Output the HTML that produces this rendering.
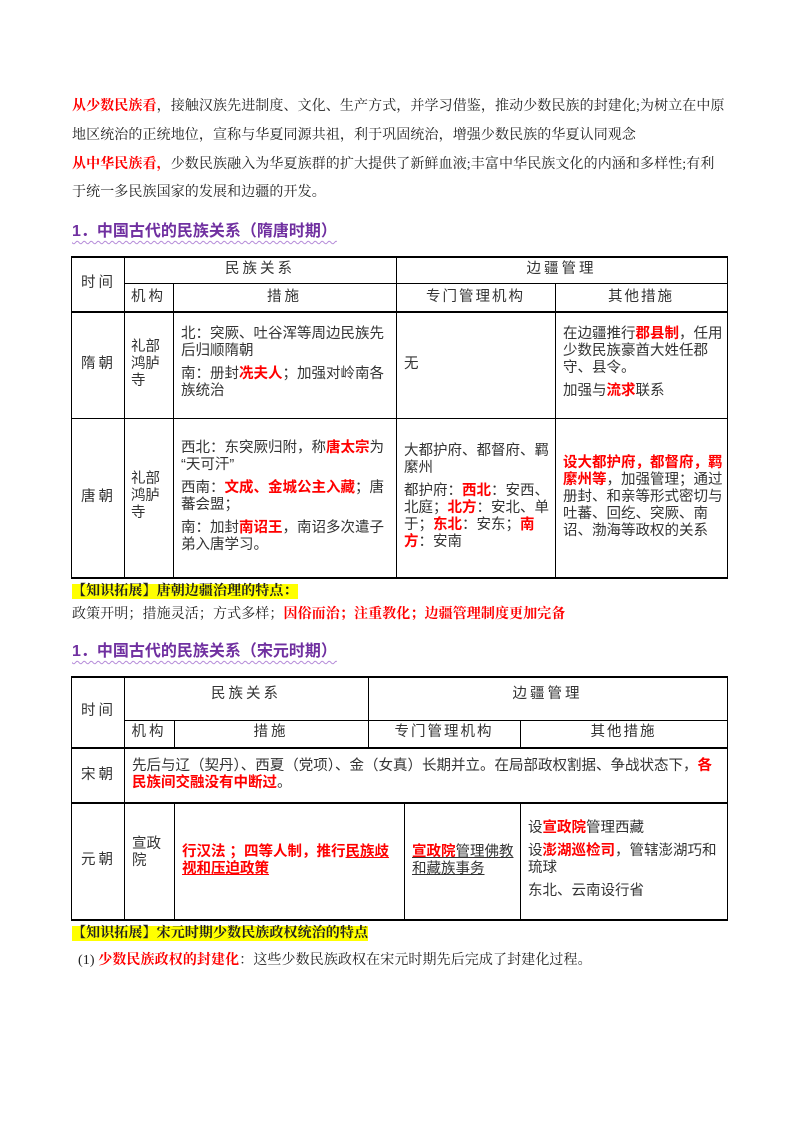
<!DOCTYPE html>
<html><head><meta charset="utf-8"><style>
body{margin:0;background:#fff;}
#p{position:relative;width:800px;height:1132px;overflow:hidden;font-family:"Liberation Serif","Noto Serif CJK SC",serif;color:#222;}
.a{position:absolute;white-space:nowrap;}
.t{font-size:14px;letter-spacing:0.1px;}
.r{color:#f00;font-weight:bold;}
.h{font-family:"Liberation Sans","Noto Sans CJK SC",sans-serif;font-weight:bold;color:#7030a0;font-size:16px;text-decoration:underline wavy #b48ad8;text-decoration-thickness:1px;text-underline-offset:4px;}
.ln{position:absolute;background:#000;}
.c{position:absolute;font-family:"Liberation Sans","Noto Sans CJK SC",sans-serif;font-size:14.5px;line-height:17px;color:#333;white-space:normal;}
.cc{text-align:center;}
.y{background:#ffff00;font-weight:bold;}
u{text-decoration-thickness:1px;}
</style></head><body><div id="p">
<div class="a t" style="left:72px;top:95px;"><span class="r">从少数民族看</span>，接触汉族先进制度、文化、生产方式，并学习借鉴，推动少数民族的封建化;为树立在中原</div>
<div class="a t" style="left:72px;top:124px;">地区统治的正统地位，宣称与华夏同源共祖，利于巩固统治，增强少数民族的华夏认同观念</div>
<div class="a t" style="left:72px;top:153px;"><span class="r">从中华民族看，</span>少数民族融入为华夏族群的扩大提供了新鲜血液;丰富中华民族文化的内涵和多样性;有利</div>
<div class="a t" style="left:72px;top:181px;">于统一多民族国家的发展和边疆的开发。</div>
<div class="a h" style="left:72px;top:217px;">1．中国古代的民族关系（隋唐时期）</div>

<!-- table 1 -->
<div class="ln" style="left:71px;top:256px;width:657px;height:2px"></div>
<div class="ln" style="left:124px;top:283px;width:604px;height:1px"></div>
<div class="ln" style="left:71px;top:311px;width:657px;height:2px"></div>
<div class="ln" style="left:71px;top:418px;width:657px;height:1px"></div>
<div class="ln" style="left:71px;top:577px;width:657px;height:2px"></div>
<div class="ln" style="left:71px;top:256px;width:1px;height:323px"></div>
<div class="ln" style="left:124px;top:256px;width:1px;height:323px"></div>
<div class="ln" style="left:173px;top:283px;width:1px;height:296px"></div>
<div class="ln" style="left:396px;top:256px;width:1px;height:323px"></div>
<div class="ln" style="left:555px;top:283px;width:1px;height:296px"></div>
<div class="ln" style="left:727px;top:256px;width:1px;height:323px"></div>
<div class="c" style="left:81px;top:275px;letter-spacing:3px">时间</div>
<div class="c cc" style="left:124px;top:261px;width:272px;letter-spacing:3px">民族关系</div>
<div class="c cc" style="left:396px;top:261px;width:331px;letter-spacing:3px">边疆管理</div>
<div class="c cc" style="left:124px;top:289px;width:49px;letter-spacing:3px">机构</div>
<div class="c cc" style="left:173px;top:289px;width:223px;letter-spacing:3px">措施</div>
<div class="c cc" style="left:396px;top:289px;width:159px;letter-spacing:2px">专门管理机构</div>
<div class="c cc" style="left:555px;top:289px;width:172px;letter-spacing:2px">其他措施</div>
<div class="c" style="left:81px;top:356px;letter-spacing:3px">隋朝</div>
<div class="c" style="left:131px;top:339px;width:36px">礼部鸿胪寺</div>
<div class="c" style="left:181px;top:326px;width:212px">北：突厥、吐谷浑等周边民族先后归顺隋朝<div style="height:6px"></div>南：册封<span class="r">冼夫人</span>；加强对岭南各族统治</div>
<div class="c" style="left:404px;top:356px;">无</div>
<div class="c" style="left:563px;top:326px;width:163px">在边疆推行<span class="r">郡县制</span>，任用少数民族豪酋大姓任郡守、县令。<div style="height:6px"></div>加强与<span class="r">流求</span>联系</div>
<div class="c" style="left:81px;top:489px;letter-spacing:3px">唐朝</div>
<div class="c" style="left:131px;top:471px;width:36px">礼部鸿胪寺</div>
<div class="c" style="left:181px;top:440px;width:216px"><span style="white-space:nowrap">西北：东突厥归附，称<span class="r">唐太宗</span>为</span><br>“天可汗”<div style="height:6px"></div>西南：<span class="r">文成、金城公主入藏</span>；唐蕃会盟；<div style="height:6px"></div>南：加封<span class="r">南诏王</span>，南诏多次遣子弟入唐学习。</div>
<div class="c" style="left:404px;top:443px;width:150px">大都护府、都督府、羁縻州<div style="height:6px"></div>都护府：<span class="r">西北</span>：安西、北庭；<span class="r">北方</span>：安北、单于；<span class="r">东北</span>：安东；<span class="r">南方</span>：安南</div>
<div class="c" style="left:563px;top:455px;width:163px"><span class="r">设大都护府，都督府，羁縻州等</span>，加强管理；通过册封、和亲等形式密切与吐蕃、回纥、突厥、南诏、渤海等政权的关系</div>
<div class="a t" style="left:72px;top:580px;"><span class="y">【知识拓展】唐朝边疆治理的特点：</span></div>
<div class="a t" style="left:72px;top:603px;">政策开明；措施灵活；方式多样；<span class="r">因俗而治；注重教化；边疆管理制度更加完备</span></div>

<div class="a h" style="left:72px;top:637px;">1．中国古代的民族关系（宋元时期）</div>

<!-- table 2 -->
<div class="ln" style="left:71px;top:676px;width:657px;height:2px"></div>
<div class="ln" style="left:124px;top:720px;width:604px;height:1px"></div>
<div class="ln" style="left:71px;top:747px;width:657px;height:2px"></div>
<div class="ln" style="left:71px;top:802px;width:657px;height:2px"></div>
<div class="ln" style="left:71px;top:919px;width:657px;height:2px"></div>
<div class="ln" style="left:71px;top:676px;width:1px;height:245px"></div>
<div class="ln" style="left:124px;top:676px;width:1px;height:245px"></div>
<div class="ln" style="left:174px;top:720px;width:1px;height:28px"></div>
<div class="ln" style="left:174px;top:803px;width:1px;height:117px"></div>
<div class="ln" style="left:368px;top:676px;width:1px;height:72px"></div>
<div class="ln" style="left:520px;top:720px;width:1px;height:28px"></div>
<div class="ln" style="left:404px;top:803px;width:1px;height:117px"></div>
<div class="ln" style="left:520px;top:803px;width:1px;height:117px"></div>
<div class="ln" style="left:727px;top:676px;width:1px;height:245px"></div>
<div class="c" style="left:81px;top:703px;letter-spacing:3px">时间</div>
<div class="c cc" style="left:124px;top:686px;width:244px;letter-spacing:3px">民族关系</div>
<div class="c cc" style="left:368px;top:686px;width:359px;letter-spacing:3px">边疆管理</div>
<div class="c cc" style="left:124px;top:724px;width:50px;letter-spacing:3px">机构</div>
<div class="c cc" style="left:174px;top:724px;width:194px;letter-spacing:3px">措施</div>
<div class="c cc" style="left:368px;top:724px;width:152px;letter-spacing:2px">专门管理机构</div>
<div class="c cc" style="left:520px;top:724px;width:207px;letter-spacing:2px">其他措施</div>
<div class="c" style="left:81px;top:767px;letter-spacing:3px">宋朝</div>
<div class="c" style="left:132px;top:758px;width:590px">先后与辽（契丹）、西夏（党项）、金（女真）长期并立。在局部政权割据、争战状态下，<span class="r">各民族间交融没有中断过</span>。</div>
<div class="c" style="left:81px;top:852px;letter-spacing:3px">元朝</div>
<div class="c" style="left:132px;top:836px;width:36px">宣政院</div>
<div class="c" style="left:182px;top:844px;width:218px"><span class="r">行汉法 ；四等人制，推行<u>民族歧视和压迫政策</u></span></div>
<div class="c" style="left:412px;top:844px;width:106px"><u><span class="r">宣政院</span>管理佛教和藏族事务</u></div>
<div class="c" style="left:528px;top:820px;width:195px">设<span class="r">宣政院</span>管理西藏<div style="height:6px"></div>设<span class="r">澎湖巡检司</span>，管辖澎湖巧和琉球<div style="height:6px"></div>东北、云南设行省</div>
<div class="a t" style="left:72px;top:922px;"><span class="y">【知识拓展】宋元时期少数民族政权统治的特点</span></div>
<div class="a t" style="left:78px;top:949px;">(1) <span class="r">少数民族政权的封建化</span>：这些少数民族政权在宋元时期先后完成了封建化过程。</div>
</div></body></html>
